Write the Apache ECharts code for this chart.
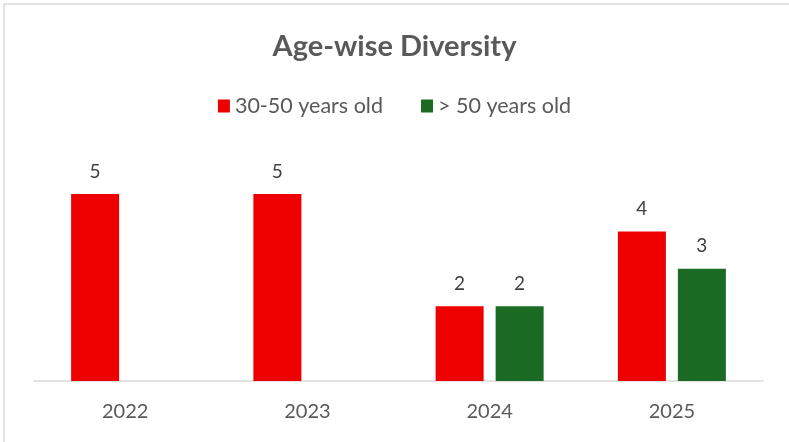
<!DOCTYPE html>
<html>
<head>
<meta charset="utf-8">
<script src="https://cdn.jsdelivr.net/npm/echarts@6/dist/echarts.min.js"></script>
<style>
html,body{margin:0;padding:0;background:#fff;}
#chart{width:789px;height:442px;}
</style>
</head>
<body>
<div id="chart"></div>
<script>
var titleText = 'Age-wise Diversity';
var categories = ['2022', '2023', '2024', '2025'];
var seriesNames = ['30-50 years old', '> 50 years old'];
var midAge = [5, 5, 2, 4];
var senior = [null, null, 2, 3];
var colors = ['#EE0000', '#1B6B25'];

var FONT = 'Lato, "Open Sans", sans-serif';
var chart = echarts.init(document.getElementById('chart'));
chart.setOption({
  animation: false,
  backgroundColor: '#ffffff',
  graphic: [{
    type: 'rect', silent: true, z: -1,
    shape: {x: 4, y: 4, width: 800, height: 460},
    style: {fill: 'none', stroke: '#d9d9d9', lineWidth: 1.5}
  }],
  title: {
    text: titleText, left: 'center', top: 27,
    textStyle: {fontFamily: FONT, fontSize: 29, fontWeight: 'bold', color: '#595959'}
  },
  legend: {
    top: 90, left: 'center', itemWidth: 12, itemHeight: 13, itemGap: 38,
    icon: 'rect',
    textStyle: {fontFamily: FONT, fontSize: 21.5, color: '#595959'},
    data: seriesNames
  },
  grid: {left: 34, right: 26, top: 156.6, bottom: 61, containLabel: false},
  xAxis: {
    type: 'category', data: categories,
    axisLine: {lineStyle: {color: '#d9d9d9', width: 1.5}},
    axisTick: {show: false},
    axisLabel: {fontFamily: FONT, fontSize: 20, color: '#595959', margin: 21}
  },
  yAxis: {
    type: 'value', min: 0, max: 6, interval: 1,
    show: false, splitLine: {show: false}
  },
  series: [
    {name: seriesNames[0], type: 'bar', data: midAge, barWidth: 48, barGap: '25%',
     itemStyle: {color: colors[0]},
     label: {show: true, position: 'top', distance: 13, fontFamily: FONT, fontSize: 19, color: '#404040'}},
    {name: seriesNames[1], type: 'bar', data: senior, barWidth: 48, barGap: '25%',
     itemStyle: {color: colors[1]},
     label: {show: true, position: 'top', distance: 13, fontFamily: FONT, fontSize: 19, color: '#404040'}}
  ]
});
</script>
</body>
</html>
